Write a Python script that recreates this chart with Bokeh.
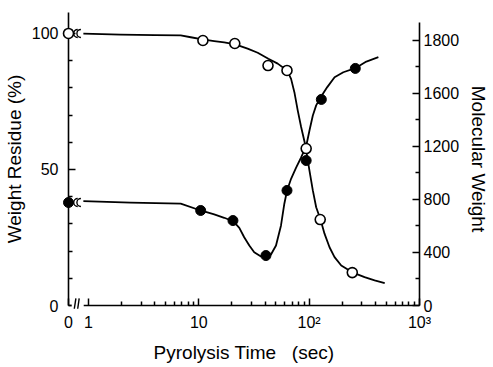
from math import pi
from bokeh.plotting import figure
from bokeh.models import Range1d, LinearAxis, FixedTicker
from bokeh.embed import file_html
from bokeh.resources import INLINE

# ---- data ----
ZERO_POS = 0.66          # where "time 0" sits on the log axis
x_ticks = [ZERO_POS, 1, 10, 100, 1000]
x_tick_labels = ["0", "1", "10", "10²", "10³"]
x_minor = [2, 3, 4, 5, 6, 7, 8, 9, 20, 30, 40, 50, 60, 70, 80, 90,
           200, 300, 400, 500, 600, 700, 800, 900]

wr_ticks = [0, 50, 100]
wr_minor = [10, 20, 30, 40, 60, 70, 80, 90]
mw_ticks = [0, 400, 800, 1200, 1600, 2000]
mw_tick_labels = ["0", "400", "800", "1200", "1600", "1800"]
mw_minor = [200, 600, 1000, 1400, 1800]

# weight residue (%) - open circles
wr_zero = 100
wr_t = [10.9, 21.2, 42.4, 63, 94, 126, 246]
wr_v = [97.4, 96.3, 88.2, 86.4, 57.7, 31.6, 12.1]
# molecular weight - filled circles
mw_zero = 777
mw_t = [10.4, 20.4, 40.6, 63, 94, 129, 262]
mw_v = [717, 641, 377, 868, 1094, 1555, 1789]

# hand-drawn smooth curves
wr_curve_t = [0.9, 1.95, 4.0, 6.86, 8.46, 10.8, 13.8, 17.0, 21.4, 27.7, 34.2, 42.7,
              51.9, 63.1, 68.6, 73.5, 78.8, 84.6, 92.5, 100.7, 108, 115.8, 126.8,
              137.8, 153, 169.9, 195.4, 246, 318, 392, 484]
wr_curve_v = [99.9, 99.6, 99.4, 99.3, 98.6, 97.8, 97.2, 96.7, 96.0, 94.4, 92.9, 90.7,
              88.9, 86.4, 83.3, 78.4, 71.7, 65.6, 58.8, 49.6, 42.3, 36.1, 31.6,
              26.4, 21.4, 17.8, 14.7, 12.2, 10.4, 9.2, 8.2]
mw_curve_t = [0.9, 2.41, 6.86, 10.4, 13.8, 17.0, 20.5, 23.3, 25.8, 28.7, 31.8, 36.6,
              40.6, 45.1, 50.1, 55.6, 59.6, 63.1, 68.6, 76.2, 84.6, 93.9, 100.7,
              108, 115.8, 126.8, 146, 170, 204, 262, 330, 424]
mw_curve_v = [787, 777, 768, 717, 687, 662, 636, 586, 515, 453, 402, 370,
              365, 385, 453, 604, 768, 868, 956, 1041, 1117, 1200, 1321,
              1434, 1510, 1570, 1648, 1723, 1760, 1791, 1841, 1874]

TICK_FONT = "Liberation Sans"
TITLE_FONT = "Liberation Sans"

p = figure(width=493, height=367, x_axis_type="log",
           x_range=Range1d(ZERO_POS, 1000), y_range=Range1d(0, 107.7),
           output_backend="svg", toolbar_location=None,
           min_border_left=68, min_border_right=74,
           min_border_top=12, min_border_bottom=62)
p.outline_line_color = None
p.grid.visible = False
p.extra_y_ranges = {"mw": Range1d(0, 2211)}

def style_axis(ax):
    ax.axis_line_color = "black"
    ax.axis_line_width = 1.6
    ax.major_tick_line_color = "black"
    ax.minor_tick_line_color = "black"
    ax.major_tick_line_width = 1.5
    ax.minor_tick_line_width = 1.5
    ax.major_tick_in = 7
    ax.major_tick_out = 0
    ax.minor_tick_in = 4
    ax.minor_tick_out = 0
    ax.major_label_text_font = TICK_FONT
    ax.major_label_text_font_size = "16px"
    ax.major_label_text_color = "black"
    ax.axis_label_text_font = TITLE_FONT
    ax.axis_label_text_font_size = "19px"
    ax.axis_label_text_font_style = "normal"
    ax.axis_label_text_color = "black"

xa = p.xaxis[0]
xa.ticker = FixedTicker(ticks=x_ticks, minor_ticks=x_minor)
xa.major_label_overrides = {t: l for t, l in zip(x_ticks, x_tick_labels)}
xa.axis_label = "Pyrolysis Time\u00a0\u00a0\u00a0(sec)"
xa.major_label_standoff = 8
xa.axis_label_standoff = 8
style_axis(xa)

ya = p.yaxis[0]
ya.ticker = FixedTicker(ticks=wr_ticks, minor_ticks=wr_minor)
ya.axis_label = "Weight Residue (%)"
ya.major_label_standoff = 10
ya.axis_label_standoff = 4
style_axis(ya)

ra = LinearAxis(y_range_name="mw", axis_label="Molecular Weight",
                ticker=FixedTicker(ticks=mw_ticks, minor_ticks=mw_minor))
ra.major_label_overrides = {t: l for t, l in zip(mw_ticks, mw_tick_labels)}
ra.bounds = (0, 2136)
ra.major_label_standoff = 4
ra.axis_label_standoff = 6
style_axis(ra)
p.add_layout(ra, "right")

LW = 1.8
# curves
p.line(wr_curve_t, wr_curve_v, line_color="black", line_width=LW, line_join="round")
p.line(mw_curve_t, mw_curve_v, line_color="black", line_width=LW, line_join="round",
       y_range_name="mw")

# stubs from time-zero to the break, with break marks
STUB_END = 0.731
BREAK_1, BREAK_2 = 0.80, 0.855
p.line([ZERO_POS, STUB_END], [wr_zero, wr_zero], line_color="black", line_width=LW)
p.line([ZERO_POS, STUB_END], [mw_zero, mw_zero], line_color="black", line_width=LW,
       y_range_name="mw")
p.arc(x=[BREAK_1, BREAK_2], y=[wr_zero, wr_zero], radius=4, radius_units="screen",
      start_angle=pi / 2, end_angle=3 * pi / 2, line_color="black", line_width=1.4)
p.arc(x=[BREAK_1, BREAK_2], y=[mw_zero, mw_zero], radius=4, radius_units="screen",
      start_angle=pi / 2, end_angle=3 * pi / 2, line_color="black", line_width=1.4,
      y_range_name="mw")

# break on the x axis
p.rect(x=[0.80], y=[0], width=12, height=5, width_units="screen", height_units="screen",
       fill_color="white", line_color=None, level="overlay")
p.segment(x0=[0.745, 0.8], y0=[-1.2, -1.2], x1=[0.77, 0.825], y1=[2.6, 2.6],
          line_color="black", line_width=1.4, level="overlay")

# markers
p.scatter(wr_t, wr_v, size=10, marker="circle", fill_color="white",
          line_color="black", line_width=1.6)
p.scatter(mw_t, mw_v, size=10, marker="circle", fill_color="black",
          line_color="black", line_width=1.0, y_range_name="mw")
p.scatter([ZERO_POS], [wr_zero], size=10, marker="circle", fill_color="white",
          line_color="black", line_width=1.6, level="overlay")
p.scatter([ZERO_POS], [mw_zero], size=10, marker="circle", fill_color="black",
          line_color="black", line_width=1.0, y_range_name="mw", level="overlay")

open("out.html", "w").write(file_html(p, INLINE))
